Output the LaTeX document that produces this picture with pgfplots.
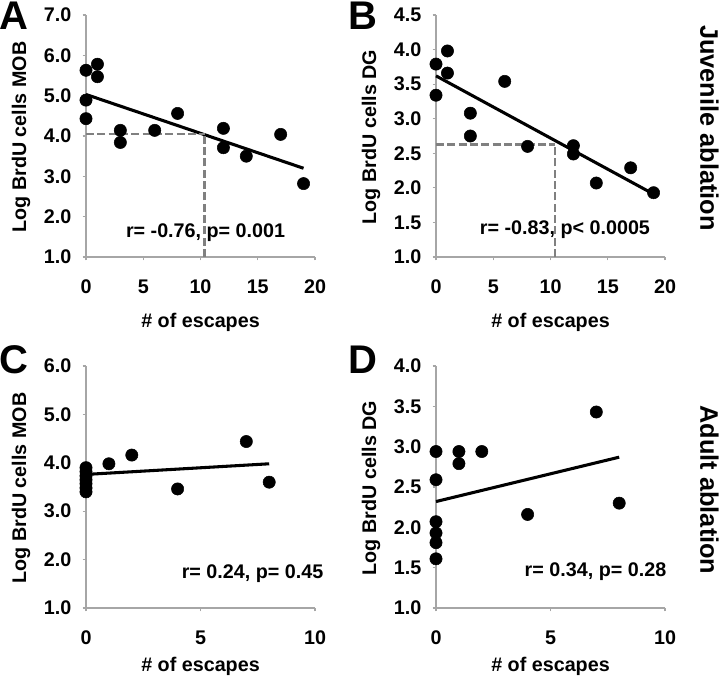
\documentclass[border=0pt]{standalone}
\usepackage{pgfplots}
\pgfplotsset{compat=1.18}
\usepackage{fontspec}
\setmainfont{Liberation Sans}
\newcommand{\lbl}{\fontsize{14.8}{17}\selectfont\bfseries}
\pgfplotsset{panel/.style={
  width=171.75pt, height=181.5pt, scale only axis, clip=false,
  axis x line*=bottom, axis y line*=left,
  axis line style={draw=gray!70, line width=0.9pt},
  every tick/.style={draw=gray!70, line width=0.9pt},
  tick align=outside, major tick length=2.5pt,
  /pgf/number format/assume math mode=true,
  tick label style={font=\lbl},
  yticklabel={\pgfmathprintnumber[fixed,fixed zerofill,precision=1]{\tick}},
  y tick label style={xshift=-5pt},
  x tick label style={yshift=-11pt},
  scatter/.style={only marks, mark=*, mark size=4.6pt, mark options={fill=black, draw=black}},
  fit/.style={no marks, black, line width=2.3pt},
  guide/.style={no marks, draw=black!50, line width=2pt, dash pattern=on 6pt off 2.5pt},
}}
\begin{document}
\begin{tikzpicture}
\useasboundingbox (0,0) rectangle (540pt,-512.25pt);
% ---------- A ----------
\begin{axis}[panel, at={(64.5pt,-192.75pt)}, anchor=south west,
  xmin=0, xmax=20, ymin=1, ymax=7, xtick={0,5,10,15,20}, ytick={1,2,3,4,5,6,7}]
\addplot[fit] coordinates {(0,5.03) (19,3.2)};
\addplot[scatter] coordinates {
(0,5.63) (0,4.89) (0,4.43) (1,5.78) (1,5.47) (3,4.14) (3,3.84) (6,4.14)
(8,4.56) (12,4.19) (12,3.71) (14,3.50) (17,4.04) (19,2.82)};
\node[anchor=east, font=\lbl] at (axis cs:17.8,1.6) {r= -0.76, p= 0.001};
\addplot[guide] coordinates {(0,4.05) (10.35,4.05)};
\addplot[guide] coordinates {(10.35,1) (10.35,4.05)};
\end{axis}
% ---------- B ----------
\begin{axis}[panel, at={(327pt,-192.75pt)}, anchor=south west,
  xmin=0, xmax=20, ymin=1, ymax=4.5, xtick={0,5,10,15,20}, ytick={1,1.5,2,2.5,3,3.5,4,4.5}]
\addplot[fit] coordinates {(0,3.62) (19,1.91)};
\addplot[scatter] coordinates {
(0,3.79) (0,3.34) (1,3.98) (1,3.66) (3,3.08) (3,2.75) (6,3.54) (8,2.60)
(12,2.61) (12,2.49) (14,2.07) (17,2.29) (19,1.93)};
\node[anchor=east, font=\lbl] at (axis cs:19.1,1.39) {r= -0.83, p< 0.0005};
\addplot[guide] coordinates {(0,2.63) (10.4,2.63)};
\addplot[guide] coordinates {(10.4,1) (10.4,2.63)};
\end{axis}
% ---------- C ----------
\begin{axis}[panel, at={(64.5pt,-456pt)}, anchor=south west,
  xmin=0, xmax=10, ymin=1, ymax=6, xtick={0,5,10}, ytick={1,2,3,4,5,6}]
\addplot[fit] coordinates {(0,3.76) (8,3.98)};
\addplot[scatter] coordinates {
(0,3.40) (0,3.48) (0,3.57) (0,3.65) (0,3.73) (0,3.82) (0,3.90)
(1,3.98) (2,4.16) (4,3.46) (7,4.44) (8,3.60)};
\node[anchor=east, font=\lbl] at (axis cs:10.57,1.72) {r= 0.24, p= 0.45};
\end{axis}
% ---------- D ----------
\begin{axis}[panel, at={(327pt,-456pt)}, anchor=south west,
  xmin=0, xmax=10, ymin=1, ymax=4, xtick={0,5,10}, ytick={1,1.5,2,2.5,3,3.5,4}]
\addplot[fit] coordinates {(0,2.32) (8,2.87)};
\addplot[scatter] coordinates {
(0,2.94) (0,2.59) (0,2.07) (0,1.93) (0,1.81) (0,1.61)
(1,2.94) (1,2.79) (2,2.94) (4,2.16) (7,3.43) (8,2.30)};
\node[anchor=east, font=\lbl] at (axis cs:10.26,1.45) {r= 0.34, p= 0.28};
\end{axis}
% ---------- labels ----------
\node[rotate=90, font=\lbl] at (15.75pt,-102.75pt) {Log BrdU cells MOB};
\node[rotate=90, font=\lbl] at (278.25pt,-102.75pt) {Log BrdU cells DG};
\node[rotate=90, font=\lbl] at (15.75pt,-366pt) {Log BrdU cells MOB};
\node[rotate=90, font=\lbl] at (278.25pt,-366pt) {Log BrdU cells DG};
\node[font=\lbl] at (150.4pt,-241.5pt) {\# of escapes};
\node[font=\lbl] at (412.9pt,-241.5pt) {\# of escapes};
\node[font=\lbl] at (150.4pt,-500pt) {\# of escapes};
\node[font=\lbl] at (412.9pt,-500pt) {\# of escapes};
\node[rotate=-90, font=\fontsize{19}{21}\selectfont\bfseries] at (532pt,-96pt) {Juvenile ablation};
\node[rotate=-90, font=\fontsize{19}{21}\selectfont\bfseries] at (532pt,-367.5pt) {Adult ablation};
\node[font=\fontsize{30}{32}\selectfont\bfseries] at (10.5pt,-12pt) {A};
\node[font=\fontsize{30}{32}\selectfont\bfseries] at (272pt,-12pt) {B};
\node[font=\fontsize{30}{32}\selectfont\bfseries] at (10.5pt,-270pt) {C};
\node[font=\fontsize{30}{32}\selectfont\bfseries] at (272pt,-270pt) {D};
\end{tikzpicture}
\end{document}
